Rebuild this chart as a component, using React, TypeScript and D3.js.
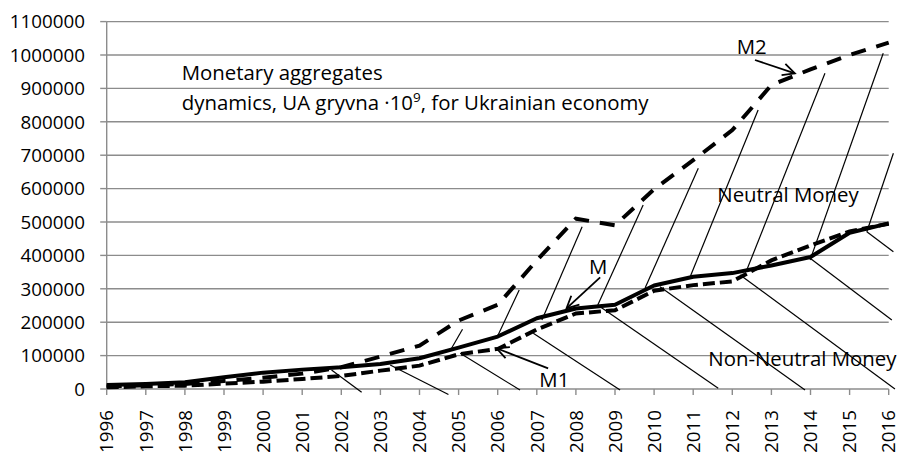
import React from "react";
import * as d3 from "d3";

const years = [1996, 1997, 1998, 1999, 2000, 2001, 2002, 2003, 2004, 2005, 2006, 2007, 2008, 2009, 2010, 2011, 2012, 2013, 2014, 2015, 2016];
const m2Values = [8000, 11000, 15000, 24000, 34000, 46000, 65000, 97000, 130000, 205000, 252000, 385000, 510000, 490000, 598000, 685000, 775000, 910000, 957000, 1000000, 1037000];
const mValues = [12000, 15000, 20000, 35000, 49000, 58000, 65000, 75000, 92000, 124000, 157000, 212000, 241000, 252000, 310000, 336000, 347000, 370000, 395000, 468000, 496000];
const m1Values = [5000, 8000, 10000, 16000, 22000, 30000, 39000, 55000, 70000, 104000, 120000, 178000, 226000, 236000, 294000, 311000, 322000, 385000, 430000, 472000, 495000];
const yTicks = [0, 100000, 200000, 300000, 400000, 500000, 600000, 700000, 800000, 900000, 1000000, 1100000];

// hatch lines: [year0, value0, year1, value1]
const neutralHatch = [
  [2004.82, 121900, 2005.10, 178700],
  [2005.99, 156600, 2006.55, 296400],
  [2007.13, 206600, 2008.16, 485900],
  [2008.56, 251500, 2009.72, 550900],
  [2009.77, 302400, 2011.13, 660800],
  [2010.92, 335300, 2012.66, 835300],
  [2012.37, 356300, 2014.37, 945200],
  [2013.99, 386200, 2015.86, 1005100],
  [2015.44, 470900, 2016.12, 705700],
];
const nonNeutralHatch = [
  [2001.75, 56900, 2002.52, -9900],
  [2003.25, 71900, 2004.74, -16500],
  [2005.04, 106900, 2006.57, -3000],
  [2006.91, 166800, 2009.13, -3000],
  [2008.62, 246400, 2011.64, 2100],
  [2010.15, 306300, 2013.86, -3000],
  [2012.20, 341300, 2016.16, 0],
  [2013.99, 391300, 2016.08, 206600],
  [2015.44, 470900, 2016.12, 411100],
];
// arrows: [yearFrom, valueFrom, yearTo, valueTo]
const arrowLines = [
  [2012.58, 985000, 2013.60, 945200],
  [2008.62, 334400, 2007.76, 241600],
  [2007.29, 62000, 2005.97, 121900],
];

const FONT = "'Open Sans', 'Liberation Sans', sans-serif";

export default function App() {
  const W = 900;
  const H = 452;
  const x = d3.scaleLinear().domain([1996, 2016]).range([106.7, 888.7]);
  const y = d3.scaleLinear().domain([0, 1100000]).range([389, 21.6]);
  const lineGen = d3
    .line<number>()
    .x((_, i) => x(years[i]))
    .y((d) => y(d));
  const grid = "#8c8c8c";

  return (
    <svg
      width={W}
      height={H}
      viewBox={`0 0 ${W} ${H}`}
      style={{ position: "absolute", left: 0, top: 0, background: "#fff" }}
    >
      <defs>
        <marker
          id="arr"
          markerUnits="userSpaceOnUse"
          markerWidth={30}
          markerHeight={30}
          refX={15}
          refY={15}
          orient="auto"
          viewBox="0 0 30 30"
        >
          <path d="M3,9 L15,15 L3,21" fill="none" stroke="#000" strokeWidth={1.8} />
        </marker>
      </defs>

      {/* gridlines */}
      {yTicks.map((t) => (
        <line key={"g" + t} x1={x(1996)} x2={x(2016)} y1={y(t)} y2={y(t)} stroke={grid} strokeWidth={1.4} />
      ))}
      {/* y axis */}
      <line x1={x(1996)} x2={x(1996)} y1={y(1100000)} y2={y(0)} stroke={grid} strokeWidth={1.4} />
      {yTicks.map((t) => (
        <line key={"yt" + t} x1={x(1996) - 6.5} x2={x(1996)} y1={y(t)} y2={y(t)} stroke={grid} strokeWidth={1.4} />
      ))}
      {yTicks.map((t) => (
        <text
          key={"yl" + t}
          x={85}
          y={y(t)}
          dy="0.36em"
          textAnchor="end"
          fontFamily={FONT}
          fontSize={18.8}
          fill="#000"
        >
          {t}
        </text>
      ))}
      {/* x axis */}
      {years.map((yr) => (
        <line key={"xt" + yr} x1={x(yr)} x2={x(yr)} y1={y(0)} y2={y(0) + 6} stroke={grid} strokeWidth={1.4} />
      ))}
      {years.map((yr) => (
        <text
          key={"xl" + yr}
          transform={`translate(${x(yr)},410) rotate(-90)`}
          dy="0.36em"
          textAnchor="end"
          fontFamily={FONT}
          fontSize={18.8}
          fill="#000"
        >
          {yr}
        </text>
      ))}

      {/* texts */}
      <text x={181.7} y={80} fontFamily={FONT} fontSize={20.4} fill="#000">
        Monetary aggregates
      </text>
      <text x={181.7} y={110} fontFamily={FONT} fontSize={20.4} fill="#000">
        dynamics, UA gryvna ·10
        <tspan dy={-8} fontSize={13.5}>9</tspan>
        <tspan dy={8}>, for Ukrainian economy</tspan>
      </text>
      <text x={717.3} y={201.7} fontFamily={FONT} fontSize={20.4} fill="#000">
        Neutral Money
      </text>
      <text x={708.3} y={366} fontFamily={FONT} fontSize={20.4} fill="#000">
        Non-Neutral Money
      </text>
      <text x={736.7} y={54} fontFamily={FONT} fontSize={20.4} fill="#000">
        M2
      </text>
      <text x={589} y={274} fontFamily={FONT} fontSize={20.4} fill="#000">
        M
      </text>
      <text x={539.3} y={386.7} fontFamily={FONT} fontSize={20.4} fill="#000">
        M1
      </text>

      {/* hatch lines */}
      {neutralHatch.map((h, i) => (
        <line key={"nh" + i} x1={x(h[0])} y1={y(h[1])} x2={x(h[2])} y2={y(h[3])} stroke="#000" strokeWidth={1.2} />
      ))}
      {nonNeutralHatch.map((h, i) => (
        <line key={"nn" + i} x1={x(h[0])} y1={y(h[1])} x2={x(h[2])} y2={y(h[3])} stroke="#000" strokeWidth={1.2} />
      ))}

      {/* series */}
      <path d={lineGen(m2Values) || ""} fill="none" stroke="#000" strokeWidth={4} strokeDasharray="15 11" />
      <path d={lineGen(m1Values) || ""} fill="none" stroke="#000" strokeWidth={4} strokeDasharray="12 5" />
      <path d={lineGen(mValues) || ""} fill="none" stroke="#000" strokeWidth={4} strokeLinejoin="round" />

      {/* arrows */}
      {arrowLines.map((a, i) => (
        <line
          key={"ar" + i}
          x1={x(a[0])}
          y1={y(a[1])}
          x2={x(a[2])}
          y2={y(a[3])}
          stroke="#000"
          strokeWidth={1.8}
          markerEnd="url(#arr)"
        />
      ))}
    </svg>
  );
}
